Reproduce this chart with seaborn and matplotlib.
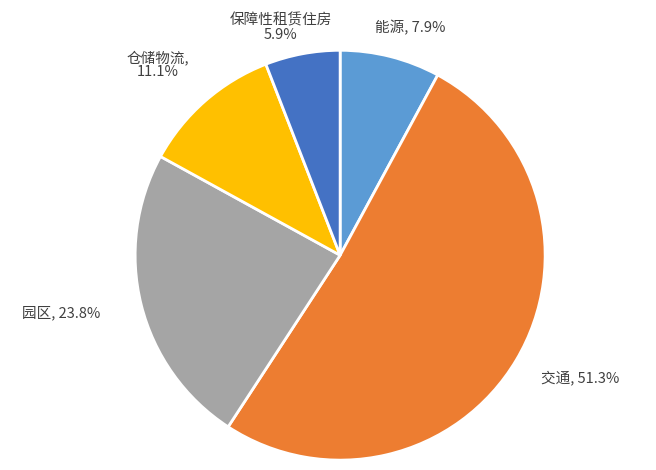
import matplotlib
matplotlib.use("Agg")
import matplotlib.pyplot as plt
import seaborn as sns

sns.set_theme(style="white")
plt.rcParams['font.family'] = ['Noto Sans CJK SC', 'DejaVu Sans']

categories = ["能源", "交通", "园区", "仓储物流", "保障性租赁住房"]
values = [7.9, 51.3, 23.8, 11.1, 5.9]
labels = ["能源, 7.9%", "交通, 51.3%", "园区, 23.8%", "仓储物流,\n11.1%", "保障性租赁住房\n5.9%"]
colors = ["#5B9BD5", "#ED7D31", "#A5A5A5", "#FFC000", "#4472C4"]
label_pos = [(0.34, 1.11), (1.17, -0.60), (-1.36, -0.28), (-0.89, 0.93), (-0.29, 1.11)]

fig = plt.figure(figsize=(6.56, 4.70), dpi=100)
ax = fig.add_axes([0.206, 0.021, 0.625, 0.872])
ax.pie(values, colors=colors, startangle=90, counterclock=False,
       wedgeprops=dict(edgecolor="white", linewidth=2))
for lab, (x, y) in zip(labels, label_pos):
    ax.text(x, y, lab, ha="center", va="center", fontsize=10.5, color="#404040",
            linespacing=1.0)
ax.set_xlim(-1, 1)
ax.set_ylim(-1, 1)
ax.set_aspect("auto")
fig.savefig("out.png", dpi=100)
